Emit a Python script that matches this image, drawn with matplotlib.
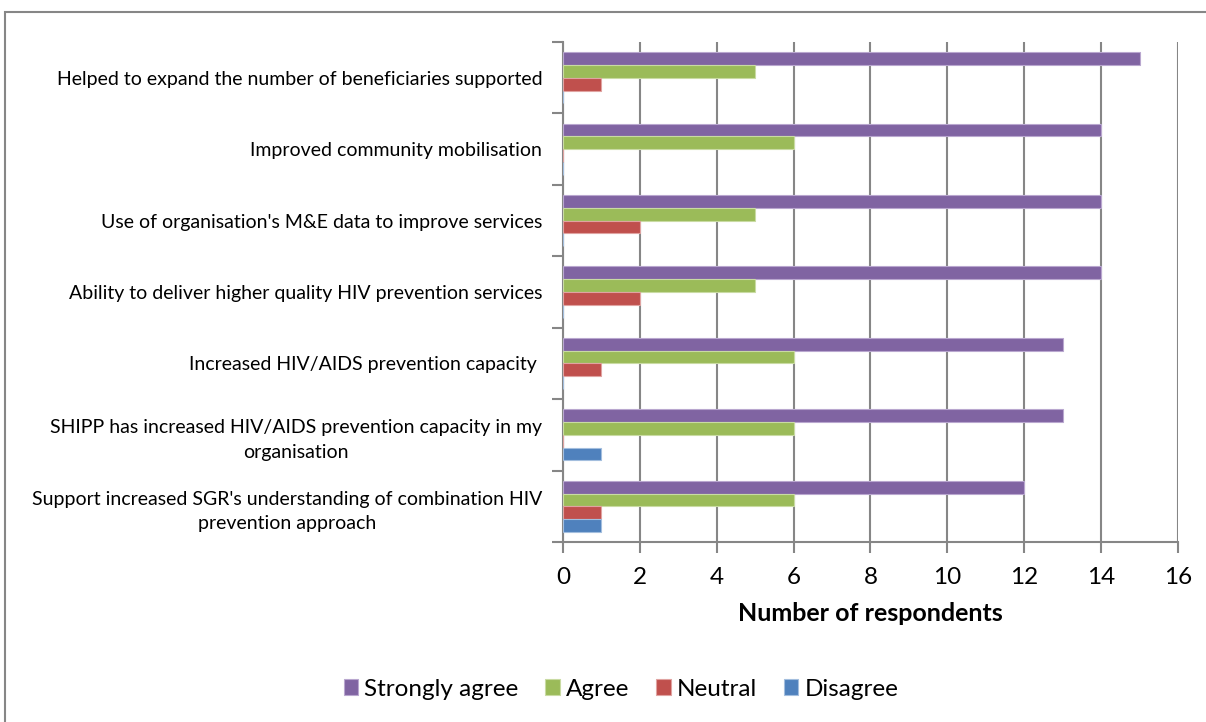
import matplotlib.pyplot as plt
import numpy as np
from matplotlib.patches import Rectangle

categories = [
    "Helped to expand the number of beneficiaries supported",
    "Improved community mobilisation",
    "Use of organisation's M&E data to improve services",
    "Ability to deliver higher quality HIV prevention services",
    "Increased HIV/AIDS prevention capacity ",
    "SHIPP has increased HIV/AIDS prevention capacity in my\norganisation",
    "Support increased SGR's understanding of combination HIV\nprevention approach",
]
strongly_agree = [15, 14, 14, 14, 13, 13, 12]
agree = [5, 6, 5, 5, 6, 6, 6]
neutral = [1, 0, 2, 2, 1, 0, 1]
disagree = [0, 0, 0, 0, 0, 1, 1]

series = [
    ("Strongly agree", strongly_agree, "#8064A2", "#b9a7cf"),
    ("Agree", agree, "#9BBB59", "#c9dba3"),
    ("Neutral", neutral, "#C0504D", "#e0a3a1"),
    ("Disagree", disagree, "#4F81BD", "#a3bede"),
]

plt.rcParams['font.family'] = ['Lato', 'DejaVu Sans']

fig = plt.figure(figsize=(12.06, 7.22), dpi=100)
ax = fig.add_axes([563 / 1206, 1 - 542 / 722, 615 / 1206, 500 / 722])

y = np.arange(len(categories))
h = 0.179
for i, (name, vals, col, edge) in enumerate(series):
    ax.barh(y + (i - 1.5) * h, vals, height=h, color=col, edgecolor=edge,
            linewidth=0.8, label=name, zorder=3)

ax.set_xlim(0, 16)
ax.set_ylim(len(categories) - 0.5, -0.5)
ax.set_xticks(range(0, 17, 2))
ax.set_yticks(y)
ax.set_yticklabels(categories, fontsize=14, multialignment='center', linespacing=1.55)
ax.set_yticks(np.arange(-0.5, len(categories)), minor=True)
ax.tick_params(axis='y', which='major', length=0, pad=15)
ax.tick_params(axis='y', which='minor', length=8, width=1.5, color='#868686')
ax.tick_params(axis='x', length=8, width=1.5, color='#868686', labelsize=17.5, pad=10)
ax.grid(axis='x', color='#868686', linewidth=1.5, zorder=0)
for s in ['top', 'right']:
    ax.spines[s].set_visible(False)
for s in ['left', 'bottom']:
    ax.spines[s].set_color('#868686')
    ax.spines[s].set_linewidth(1.5)

ax.set_xlabel("Number of respondents", fontsize=18, fontweight='bold', labelpad=10)

handles, labels = ax.get_legend_handles_labels()
fig.legend(handles, labels, loc='center', bbox_to_anchor=(621 / 1206, 1 - 689 / 722),
           ncol=4, frameon=False, fontsize=17.5, handlelength=0.6, handleheight=0.6,
           handletextpad=0.25, columnspacing=1.1)

fig.patches.append(Rectangle((5 / 1206, -0.1), 1.2, 1.1 - 12 / 722, transform=fig.transFigure,
                             fill=False, edgecolor='#868686', linewidth=1.5))

fig.savefig("out.png", dpi=100)
